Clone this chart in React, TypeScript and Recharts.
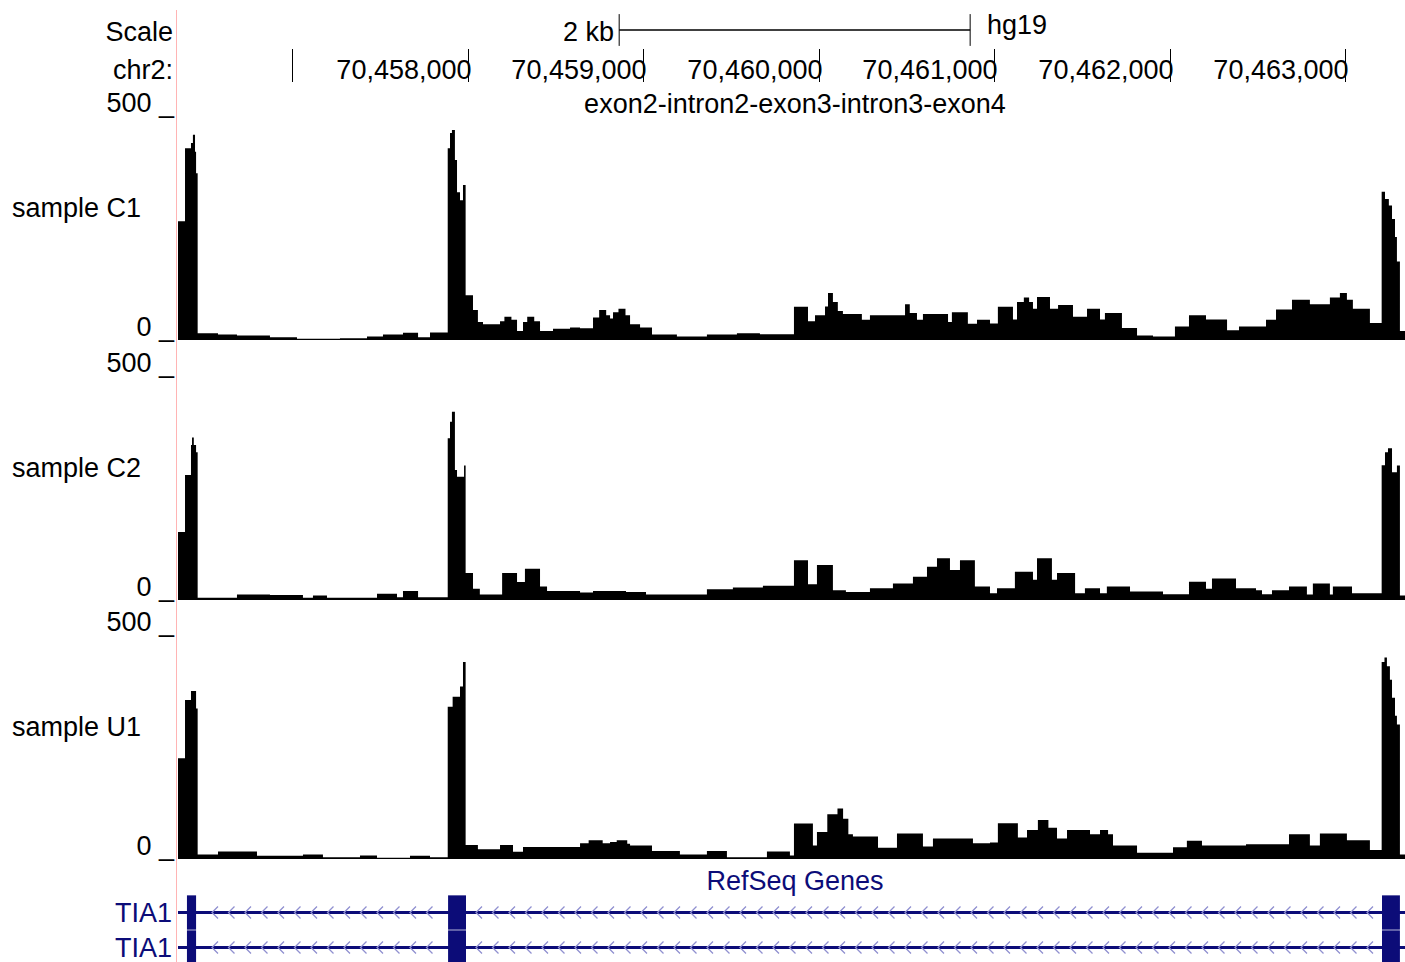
import React from "react";
import {
  ComposedChart,
  Area,
  Line,
  XAxis,
  YAxis,
  ReferenceLine,
  ReferenceArea,
} from "recharts";

// genome window shown (hg19 chr2)
const chromStart = 70456348;
const chromEnd = 70463340;

const rulerTicks = [70457000, 70458000, 70459000, 70460000, 70461000, 70462000, 70463000];
const rulerUnlabeled = [70457000];
const scaleBarStart = 70458862;
const scaleBarLength = 2000;

// coverage as [bp offset from chromStart, reads], drawn as steps
const c1Coverage: [number, number][] = [
  [0, 265], [40, 428], [74, 440], [85, 458], [97, 420], [103, 372], [112, 15], [228, 12],
  [336, 10], [524, 6], [678, 3], [923, 4], [1077, 8], [1168, 12], [1282, 16], [1368, 6],
  [1436, 17], [1537, 428], [1550, 462], [1561, 469], [1578, 402], [1590, 330], [1607, 312],
  [1624, 346], [1639, 100], [1681, 67], [1709, 40], [1738, 35], [1835, 42], [1860, 52],
  [1900, 45], [1932, 20], [1966, 40], [1990, 52], [2030, 42], [2063, 20], [2137, 25],
  [2234, 28], [2291, 26], [2365, 50], [2400, 67], [2440, 55], [2462, 48], [2479, 62],
  [2510, 70], [2550, 55], [2576, 35], [2633, 28], [2701, 12], [2843, 8], [3014, 12],
  [3185, 15], [3316, 13], [3510, 74], [3590, 42], [3630, 55], [3687, 75], [3704, 105],
  [3732, 85], [3760, 65], [3789, 58], [3897, 45], [3943, 55], [4068, 55], [4143, 80],
  [4170, 60], [4211, 45], [4245, 58], [4388, 40], [4410, 62], [4501, 36], [4553, 45],
  [4627, 37], [4672, 74], [4758, 46], [4781, 85], [4820, 95], [4850, 85], [4872, 70],
  [4895, 96], [4969, 70], [5015, 78], [5100, 52], [5180, 70], [5254, 46], [5282, 60],
  [5379, 27], [5465, 10], [5556, 8], [5681, 30], [5761, 55], [5858, 46], [5978, 22],
  [6046, 30], [6200, 45], [6257, 68], [6348, 90], [6450, 80], [6564, 95], [6621, 105],
  [6661, 90], [6695, 70], [6792, 38], [6859, 331], [6878, 315], [6900, 300], [6918, 270],
  [6935, 230], [6946, 175], [6963, 20], [6992, 20],
];

const c2Coverage: [number, number][] = [
  [0, 152], [40, 279], [74, 346], [80, 363], [90, 346], [103, 330], [112, 5], [336, 12],
  [524, 11], [712, 5], [769, 10], [849, 5], [1134, 14], [1248, 6], [1282, 20], [1368, 6],
  [1537, 361], [1550, 398], [1561, 420], [1578, 290], [1590, 275], [1630, 300], [1639, 60],
  [1681, 25], [1720, 12], [1847, 60], [1932, 40], [1977, 70], [2063, 30], [2103, 20],
  [2291, 17], [2365, 20], [2553, 18], [2667, 12], [3014, 24], [3162, 28], [3333, 32],
  [3510, 89], [3590, 35], [3641, 78], [3732, 22], [3806, 18], [3943, 26], [4074, 37],
  [4188, 52], [4268, 74], [4325, 93], [4399, 67], [4456, 89], [4541, 30], [4627, 15],
  [4667, 26], [4769, 63], [4872, 45], [4895, 93], [4980, 45], [5009, 60], [5112, 15],
  [5168, 26], [5254, 15], [5293, 30], [5425, 19], [5613, 13], [5761, 41], [5858, 25],
  [5892, 48], [6029, 26], [6143, 22], [6177, 13], [6234, 22], [6331, 30], [6433, 12],
  [6467, 37], [6564, 12], [6581, 30], [6690, 15], [6859, 301], [6878, 330], [6895, 339],
  [6918, 285], [6946, 300], [6963, 10], [6992, 10],
];

const u1Coverage: [number, number][] = [
  [0, 225], [40, 355], [74, 375], [103, 336], [112, 10], [228, 17], [450, 7], [712, 10],
  [826, 4], [1037, 8], [1134, 3], [1322, 7], [1436, 4], [1537, 340], [1565, 362],
  [1607, 385], [1624, 440], [1639, 31], [1709, 22], [1835, 31], [1909, 16], [1966, 27],
  [2291, 35], [2340, 42], [2420, 35], [2462, 38], [2500, 42], [2560, 34], [2576, 30],
  [2701, 18], [2860, 10], [3014, 18], [3128, 4], [3356, 17], [3487, 8], [3510, 79],
  [3618, 30], [3641, 60], [3700, 100], [3758, 113], [3790, 90], [3820, 55], [3846, 50],
  [3989, 25], [4097, 57], [4245, 28], [4302, 46], [4530, 35], [4627, 37], [4672, 80],
  [4786, 48], [4838, 65], [4900, 87], [4960, 70], [5009, 46], [5066, 65], [5197, 55],
  [5254, 65], [5300, 55], [5328, 30], [5465, 14], [5670, 26], [5749, 41], [5835, 30],
  [6086, 33], [6331, 55], [6450, 30], [6507, 57], [6661, 42], [6792, 20], [6859, 440],
  [6875, 450], [6889, 430], [6906, 400], [6918, 360], [6935, 320], [6946, 300],
  [6963, 10], [6992, 10],
];

const trackNames = ["sample C1", "sample C2", "sample U1"];
const trackMax = 500;

// TIA1 exons in view (genomic start, end)
const geneExons: [number, number][] = [
  [70456399, 70456451],
  [70457887, 70457989],
  [70463209, 70463311],
];
const geneNames = ["TIA1", "TIA1"];

const W = 1405;
const PLOT_LEFT = 178;
const TRACK_H = 224;
const trackTops = [116, 376, 635];
const geneRowTops = [895, 930];
const FONT = '"Liberation Sans", Arial, Helvetica, sans-serif';
const NAVY = "#0c0c78";
const CHEVRON = "#9090d0";

const txt = { fontFamily: FONT, fontSize: 27, fill: "#000" };

const ValueTick = (props: any) => {
  const { y, payload } = props;
  return (
    <text x={174} y={y - 4} textAnchor="end" {...txt}>
      {`${payload.value} _`}
    </text>
  );
};

const RulerTick = (props: any) => {
  const { x, payload } = props;
  const px = Math.round(x) + 0.5;
  const showLabel = !rulerUnlabeled.includes(payload.value);
  return (
    <g>
      <line x1={px} x2={px} y1={49} y2={82} stroke="#000" strokeWidth={1} />
      {showLabel && (
        <text x={px + 3} y={79} textAnchor="end" {...txt}>
          {payload.value.toLocaleString("en-US")}
        </text>
      )}
    </g>
  );
};

const IntronShape = (props: any) => {
  const { x1, x2, y1 } = props;
  const toPx = (bp: number) =>
    x1 + ((bp - chromStart) / (chromEnd - chromStart)) * (x2 - x1);
  const blocks = geneExons.map(([s, e]) => [toPx(s) - 7, toPx(e) + 1]);
  const marks: React.ReactNode[] = [];
  for (let cx = x1 + 1; cx < x2 - 6; cx += 16.5) {
    if (blocks.some(([a, b]) => cx + 6 > a && cx < b)) continue;
    marks.push(
      <polyline
        key={cx}
        points={`${cx + 6},${y1 - 6} ${cx},${y1} ${cx + 6},${y1 + 6}`}
        fill="none"
        stroke={CHEVRON}
        strokeWidth={1.3}
      />
    );
  }
  return (
    <g>
      <line x1={x1} x2={x2} y1={y1} y2={y1} stroke={NAVY} strokeWidth={3} />
      {marks}
    </g>
  );
};

function CoverageTrack({ top, bins }: { top: number; bins: [number, number][] }) {
  const data = bins.map(([off, cov]) => ({ pos: chromStart + off, cov }));
  return (
    <div style={{ position: "absolute", left: 0, top: top - 30 }}>
      <ComposedChart
        width={W}
        height={TRACK_H + 60}
        data={data}
        margin={{ top: 30, right: 0, bottom: 30, left: 0 }}
      >
        <XAxis
          type="number"
          dataKey="pos"
          domain={[chromStart, chromEnd]}
          allowDataOverflow
          hide
        />
        <YAxis
          type="number"
          domain={[0, trackMax]}
          ticks={[0, trackMax]}
          interval={0}
          width={PLOT_LEFT}
          axisLine={false}
          tickLine={false}
          tick={ValueTick}
        />
        <Area
          type="stepAfter"
          dataKey="cov"
          stroke="none"
          fill="#000"
          fillOpacity={1}
          isAnimationActive={false}
        />
      </ComposedChart>
    </div>
  );
}

function Ruler() {
  const data = [
    { pos: scaleBarStart, bar: 1 },
    { pos: scaleBarStart + scaleBarLength, bar: 1 },
  ];
  return (
    <div style={{ position: "absolute", left: 0, top: 0 }}>
      <ComposedChart
        width={W}
        height={90}
        data={data}
        margin={{ top: 0, right: 0, bottom: 0, left: PLOT_LEFT }}
      >
        <XAxis
          type="number"
          dataKey="pos"
          domain={[chromStart, chromEnd]}
          allowDataOverflow
          ticks={rulerTicks}
          interval={0}
          height={30}
          axisLine={false}
          tickLine={false}
          tick={RulerTick}
        />
        <YAxis type="number" domain={[0, 2]} hide />
        <Line
          dataKey="bar"
          stroke="#000"
          strokeWidth={1.5}
          dot={false}
          isAnimationActive={false}
        />
        <ReferenceLine
          segment={[
            { x: scaleBarStart, y: 0.47 },
            { x: scaleBarStart, y: 1.53 },
          ]}
          stroke="#000"
        />
        <ReferenceLine
          segment={[
            { x: scaleBarStart + scaleBarLength, y: 0.47 },
            { x: scaleBarStart + scaleBarLength, y: 1.53 },
          ]}
          stroke="#000"
        />
      </ComposedChart>
    </div>
  );
}

function GeneRow({ top }: { top: number }) {
  const data = [
    { pos: chromStart, lane: 0.5 },
    { pos: chromEnd, lane: 0.5 },
  ];
  return (
    <div style={{ position: "absolute", left: 0, top }}>
      <ComposedChart
        width={W}
        height={35}
        data={data}
        margin={{ top: 0, right: 0, bottom: 0, left: PLOT_LEFT }}
      >
        <XAxis
          type="number"
          dataKey="pos"
          domain={[chromStart, chromEnd]}
          allowDataOverflow
          hide
        />
        <YAxis type="number" domain={[0, 1]} hide />
        <Line dataKey="lane" stroke={NAVY} strokeWidth={3} dot={false} isAnimationActive={false} />
        <ReferenceLine y={0.5} shape={IntronShape} />
        {geneExons.map(([s, e]) => (
          <ReferenceArea
            key={s}
            x1={s}
            x2={e}
            y1={0.01}
            y2={0.99}
            fill={NAVY}
            fillOpacity={1}
            stroke="none"
          />
        ))}
      </ComposedChart>
    </div>
  );
}

export default function App() {
  const tracks = [c1Coverage, c2Coverage, u1Coverage];
  return (
    <div
      style={{
        position: "absolute",
        left: 0,
        top: 0,
        width: W,
        height: 962,
        background: "#fff",
        overflow: "hidden",
      }}
    >
      <svg width={W} height={962} style={{ position: "absolute", left: 0, top: 0 }}>
        <line x1={176.5} x2={176.5} y1={10} y2={962} stroke="#ffb4b4" strokeWidth={1} />
        <text x={173} y={41} textAnchor="end" {...txt}>Scale</text>
        <text x={173} y={79} textAnchor="end" {...txt}>chr2:</text>
        <text x={614} y={41} textAnchor="end" {...txt}>2 kb</text>
        <text x={987} y={34} {...txt}>hg19</text>
        <text x={795} y={113} textAnchor="middle" {...txt}>
          exon2-intron2-exon3-intron3-exon4
        </text>
        {trackNames.map((n, i) => (
          <text key={n} x={12} y={trackTops[i] + 101} {...txt}>{n}</text>
        ))}
        <text x={795} y={890} textAnchor="middle" {...txt} fill={NAVY}>RefSeq Genes</text>
        {geneNames.map((n, i) => (
          <text key={i} x={172} y={geneRowTops[i] + 27} textAnchor="end" {...txt} fill={NAVY}>
            {n}
          </text>
        ))}
      </svg>
      <Ruler />
      {tracks.map((bins, i) => (
        <CoverageTrack key={i} top={trackTops[i]} bins={bins} />
      ))}
      {geneRowTops.map((t) => (
        <GeneRow key={t} top={t} />
      ))}
    </div>
  );
}
